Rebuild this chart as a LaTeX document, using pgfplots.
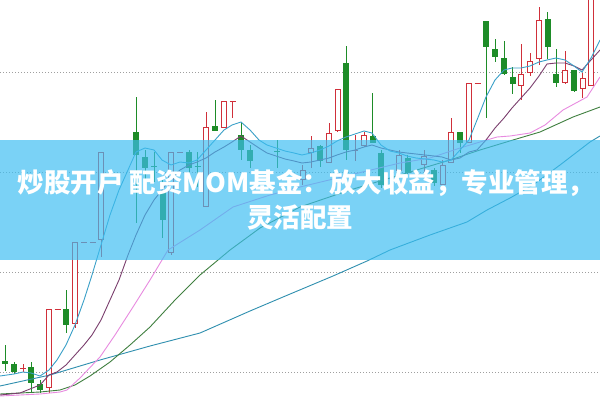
\documentclass[border=0pt]{standalone}
\usepackage{pgfplots}
\pgfplotsset{compat=1.18}
\usepackage{fontspec}
\newfontfamily\cjk{Noto Sans CJK SC}

\definecolor{kred}{RGB}{208,48,58}
\definecolor{kgreen}{RGB}{30,140,40}
\definecolor{maA}{RGB}{58,160,200}
\definecolor{maB}{RGB}{123,63,110}
\definecolor{maC}{RGB}{232,139,224}
\definecolor{maD}{RGB}{63,127,63}
\definecolor{maE}{RGB}{47,143,175}
\definecolor{banner}{RGB}{60,190,242}

\begin{document}
\begin{tikzpicture}
\begin{axis}[
    width=600pt, height=400pt, scale only axis,
    xmin=0, xmax=600, ymin=0, ymax=400,
    y dir=reverse,
    hide axis,
    unbounded coords=jump,
]
% background and dotted grid (pixel coordinates, y down)
\fill[white] (axis cs:0,0) rectangle (axis cs:600,400);
\draw[gray!75, line width=1pt, dash pattern=on 1pt off 2pt] (axis cs:0,72) -- (axis cs:600,72);
\draw[gray!75, line width=1pt, dash pattern=on 1pt off 2pt] (axis cs:0,172) -- (axis cs:600,172);
\draw[gray!75, line width=1pt, dash pattern=on 1pt off 2pt] (axis cs:0,272) -- (axis cs:600,272);
\draw[gray!75, line width=1pt, dash pattern=on 1pt off 2pt] (axis cs:0,372) -- (axis cs:600,372);

% ---------- wicks ----------
\addplot[kgreen, line width=1pt] coordinates {
 (5,345)(5,371)(5,nan) (14,362)(14,374)(14,nan) (31,362)(31,393)(31,nan) (40,380)(40,393)(40,nan)
 (66,290)(66,333)(66,nan) (136,97)(136,223)(136,nan) (145,150)(145,180)(145,nan) (154,152)(154,182)(154,nan)
 (162.5,180)(162.5,238)(162.5,nan) (189,150)(189,172)(189,nan) (197.5,152)(197.5,187)(197.5,nan)
 (215,100)(215,131)(215,nan) (241,122)(241,160)(241,nan) (250,145)(250,168)(250,nan)
 (277,140)(277,168)(277,nan) (320,145)(320,167)(320,nan) (346,46)(346,160)(346,nan)
 (372.5,93)(372.5,143)(372.5,nan) (381,150)(381,188)(381,nan)
 (407.5,155)(407.5,175)(407.5,nan) (434,168)(434,186)(434,nan) (460,132)(460,153)(460,nan)
 (486,21)(486,118)(486,nan) (495,39)(495,62)(495,nan) (504,41)(504,75)(504,nan) (512.5,67)(512.5,94)(512.5,nan)
 (547.5,12)(547.5,59)(547.5,nan) (556,49)(556,87)(556,nan) (574,70)(574,92)(574,nan)
};
\addplot[kred, line width=1pt] coordinates {
 (23,364)(23,372)(23,nan) (49,309)(49,393)(49,nan) (75,242)(75,328)(75,nan) (101,152)(101,257)(101,nan)
 (171,152)(171,255)(171,nan) (206,112)(206,207)(206,nan) (224,101)(224,128)(224,nan) (232.5,101)(232.5,118)(232.5,nan)
 (302.5,165)(302.5,185)(302.5,nan) (311,136)(311,168)(311,nan) (329,123)(329,163)(329,nan) (337.5,89)(337.5,132)(337.5,nan)
 (355,135)(355,161)(355,nan) (364,132)(364,147)(364,nan) (399,150)(399,173)(399,nan)
 (424,150)(424,172)(424,nan) (442.5,160)(442.5,185)(442.5,nan) (451,118)(451,163)(451,nan) (469,83)(469,143)(469,nan)
 (521,44)(521,100)(521,nan) (530,53)(530,76)(530,nan) (539,7)(539,65)(539,nan) (565,51)(565,84)(565,nan)
 (582.5,73)(582.5,98)(582.5,nan) (591,-5)(591,86)(591,nan)
};

% ---------- filled (down) bodies ----------
\addplot[kgreen, line width=6pt] coordinates {
 (5,361)(5,364)(5,nan) (14,364)(14,372)(14,nan) (31,367)(31,383)(31,nan) (40,384)(40,390)(40,nan)
 (66,309)(66,325)(66,nan) (136,132)(136,155)(136,nan) (145,157)(145,168)(145,nan) (162.5,192)(162.5,220)(162.5,nan)
 (189,152)(189,168)(189,nan) (215,126)(215,131)(215,nan) (241,135)(241,150)(241,nan) (250,150)(250,161)(250,nan)
 (320,146)(320,161)(320,nan) (346,63)(346,150)(346,nan) (372.5,136)(372.5,143)(372.5,nan) (381,153)(381,185)(381,nan)
 (407.5,158)(407.5,173)(407.5,nan) (434,170)(434,183)(434,nan) (460,132)(460,143)(460,nan)
 (486,21)(486,47)(486,nan) (495,49)(495,57)(495,nan) (504,58)(504,74)(504,nan) (512.5,77)(512.5,84)(512.5,nan)
 (547.5,19)(547.5,47)(547.5,nan) (556,74)(556,83)(556,nan) (574,70)(574,91)(574,nan)
};

% ---------- hollow (up) bodies ----------
\addplot[kred, line width=6pt] coordinates {
 (49,309)(49,388)(49,nan) (75,242)(75,324)(75,nan) (101,152)(101,240)(101,nan) (171,152)(171,253)(171,nan)
 (206,127)(206,207)(206,nan) (224,101)(224,128)(224,nan)
 (302.5,170)(302.5,180)(302.5,nan)
 (311,148)(311,153)(311,nan) (329,133)(329,163)(329,nan) (337.5,89)(337.5,131)(337.5,nan) (364,135)(364,146)(364,nan)
 (399,155)(399,171)(399,nan) (424,156)(424,165)(424,nan) (442.5,165)(442.5,185)(442.5,nan)
 (451,132)(451,163)(451,nan) (469,83)(469,143)(469,nan) (521,74)(521,86)(521,nan) (530,61)(530,73)(530,nan)
 (539,20)(539,59)(539,nan) (565,70)(565,83)(565,nan) (582.5,78)(582.5,89)(582.5,nan) (591,-5)(591,86)(591,nan)
};
\addplot[white, line width=4pt] coordinates {
 (49,310)(49,387)(49,nan) (75,243)(75,323)(75,nan) (101,153)(101,239)(101,nan) (171,153)(171,252)(171,nan)
 (206,128)(206,206)(206,nan) (224,102)(224,127)(224,nan)
 (302.5,171)(302.5,179)(302.5,nan)
 (311,149)(311,152)(311,nan) (329,134)(329,162)(329,nan) (337.5,90)(337.5,130)(337.5,nan) (364,136)(364,145)(364,nan)
 (399,156)(399,170)(399,nan) (424,157)(424,164)(424,nan) (442.5,166)(442.5,184)(442.5,nan)
 (451,133)(451,162)(451,nan) (469,84)(469,142)(469,nan) (521,75)(521,85)(521,nan) (530,62)(530,72)(530,nan)
 (539,21)(539,58)(539,nan) (565,71)(565,82)(565,nan) (582.5,79)(582.5,88)(582.5,nan) (591,-5)(591,85)(591,nan)
};

% ---------- flat candles (open = close) ----------
\addplot[kred, line width=1pt] coordinates {
 (20,368)(26,368)(26,nan) (54.5,309)(60.5,309)(60.5,nan) (81,242)(87,242)(87,nan) (89.5,242)(95.5,242)(95.5,nan)
 (177,152)(183,152)(183,nan) (229.5,101)(235.5,101)(235.5,nan) (352,150)(358,150)(358,nan) (474.5,83)(480.5,83)(480.5,nan)
};
\addplot[kgreen, line width=1pt] coordinates {
 (151,166)(157,166)(157,nan) (194.5,166)(200.5,166)(200.5,nan) (274,151)(280,151)(280,nan)
};

% ---------- moving averages ----------
\addplot[maE, line width=0.9pt] coordinates {
 (0,386)(50,375)(100,360)(150,346)(200,333)(250,311)(283,297)(333,276)(367,261)(390,250)(430,235)(467,222)
 (487,210)(510,198)(533,185)(560,165)(590,142)(600,136)
};
\addplot[maD, line width=0.9pt] coordinates {
 (0,394)(40,392)(60,390)(75,385)(90,376)(110,362)(130,345)(150,327)(175,300)(200,275)(230,250)(260,228)
 (300,207)(350,190)(400,175)(450,160)(480,150)(513,140)(540,132)(573,117)(600,107)
};
\addplot[maC, line width=0.9pt] coordinates {
 (0,396)(40,394)(60,392)(67,390)(80,378)(100,357)(115,335)(133,307)(150,280)(168,250)(200,230)(233,207)
 (270,195)(300,187)(350,175)(400,163)(430,158)(460,148)(480,142)(497,137)(510,136)(530,133)(545,125)
 (563,110)(587,97)(600,77)
};
\addplot[maB, line width=0.9pt] coordinates {
 (0,395)(20,393)(40,385)(49,375)(57,372)(66,365)(75,355)(84,345)(92,335)(101,320)(110,300)(119,280)(128,255)
 (136,235)(145,215)(154,200)(162,190)(171,178)(180,170)(189,165)(197,162)(206,158)(215,152)(224,147)(232,142)
 (241,136)(250,142)(259,148)(267,153)(276,156)(285,159)(294,161)(302,163)(311,162)(320,160)(329,158)(337,155)
 (346,152)(355,150)(364,147)(372,145)(381,148)(390,150)(399,152)(407,153)(416,154)(425,155)(434,156)(442,157)
 (451,160)(460,158)(469,152)(477,150)(486,140)(495,128)(504,118)(512,108)(521,98)(530,88)(539,76)(547,64)
 (556,63)(565,63)(574,66)(582,70)(591,60)(600,50)
};
\addplot[maA, line width=0.9pt] coordinates {
 (0,376)(14,374)(23,372)(31,373)(40,376)(49,370)(57,360)(66,345)(75,325)(84,300)(92,275)(101,245)(110,215)
 (119,190)(128,170)(136,152)(145,148)(154,150)(162,160)(171,165)(180,162)(189,163)(197,160)(206,150)(215,140)
 (224,130)(232,125)(241,122)(250,130)(259,140)(267,145)(276,148)(285,151)(294,153)(302,155)(311,153)(320,150)
 (329,146)(337,141)(346,137)(355,134)(364,131)(372,133)(381,145)(390,151)(399,153)(407,156)(416,158)(425,159)
 (434,160)(442,162)(451,160)(460,150)(469,140)(477,120)(486,97)(495,80)(504,70)(512,68)(521,68)(530,66)
 (539,62)(547,60)(556,58)(565,60)(574,66)(582,72)(591,58)(600,40)
};

% ---------- title banner ----------
\fill[banner, opacity=0.68] (axis cs:0,140) rectangle (axis cs:600,260);
\node[text=white, font={\cjk\bfseries\fontsize{26.5pt}{32pt}\selectfont}] at (axis cs:306,183)
  {炒股开户 配资MOM基金：放大收益，专业管理，};
\node[text=white, font={\cjk\bfseries\fontsize{26.5pt}{32pt}\selectfont}] at (axis cs:300,218)
  {灵活配置};
\end{axis}
\end{tikzpicture}
\end{document}
